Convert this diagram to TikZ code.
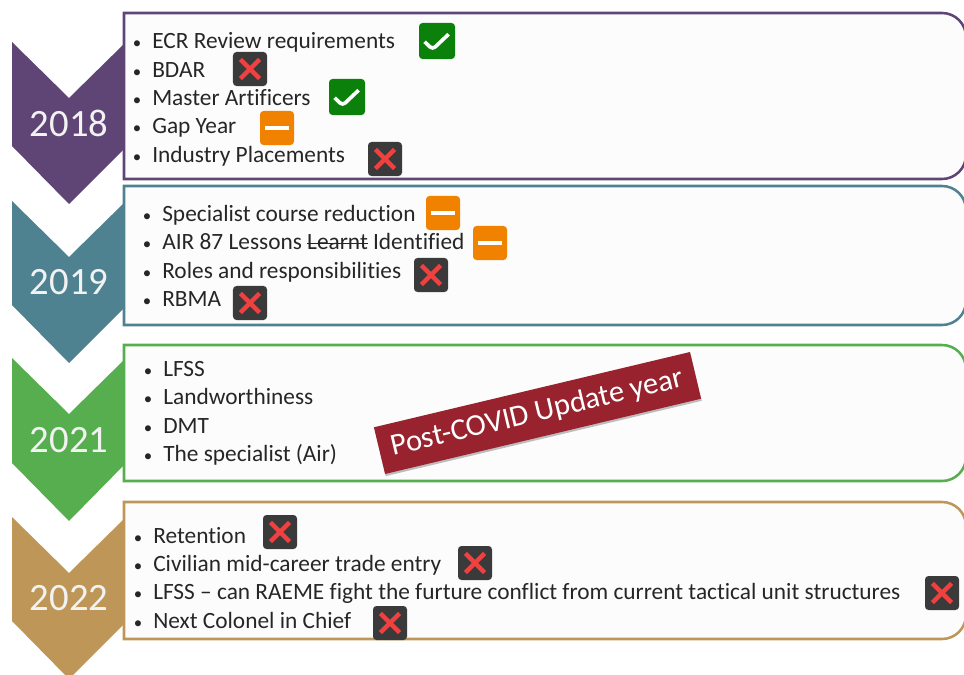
\documentclass[tikz,border=0pt]{standalone}
\usepackage{fontspec}
\setmainfont{Carlito}[Ligatures=NoCommon]
\usetikzlibrary{shadows}
\definecolor{purpleyear}{HTML}{5F4476}
\definecolor{tealyear}{HTML}{4F8291}
\definecolor{greenyear}{HTML}{57AE4F}
\definecolor{tanyear}{HTML}{BE9758}
\definecolor{bannerred}{HTML}{98232F}
\definecolor{icondark}{HTML}{3A3A3A}
\definecolor{icongreen}{HTML}{0B800B}
\definecolor{iconorange}{HTML}{F08200}
\definecolor{iconred}{HTML}{F04040}
\tikzset{
	item/.style     = {anchor=base west, inner sep=0pt, text=black!85, font=\fontsize{16.6pt}{18pt}\selectfont},
	year/.style     = {text=white!95!black, font=\fontsize{27.5pt}{30pt}\selectfont},
	topic/.style    = {line width=1.8pt, fill=white!99!black},
	icon/.style     = {rounded corners=2.5pt, minimum width=0.85cm, minimum height=0.85cm, inner sep=0pt},
	tickbox/.style  = {icon, fill=icongreen, minimum width=0.9cm, minimum height=0.9cm, path picture={
		\draw[white, line width=2.6pt] ([shift={(-0.31cm,-0.02cm)}]path picture bounding box.center)
			--++(0.2cm,-0.19cm)--++(0.4cm,0.38cm);}},
	crossbox/.style = {icon, fill=icondark, path picture={
		\draw[iconred, line width=3.2pt] ([shift={(-0.24cm,-0.24cm)}]path picture bounding box.center)
			--++(0.48cm,0.48cm) ++(-0.48cm,0)--++(0.48cm,-0.48cm);}},
	minusbox/.style = {icon, fill=iconorange, path picture={
		\draw[white, line width=3.2pt] ([shift={(-0.3cm,0cm)}]path picture bounding box.center)--++(0.6cm,0);}},
	banner/.style   = {fill=bannerred, text=white, rotate=13.4, minimum width=8.12cm, minimum height=1.2cm,
		inner sep=0pt, font=\fontsize{21.7pt}{24pt}\selectfont, drop shadow={shadow xshift=0.5pt, shadow yshift=-1.5pt, opacity=0.5}}
}
\newlength{\tikzpx}
\setlength{\tikzpx}{0.025cm}
\newcommand{\bul}{\makebox[16\tikzpx][l]{\hspace*{-3.5\tikzpx}\fontsize{12pt}{12pt}\selectfont\textbullet}}
\newcommand{\struck}[1]{\setbox0\hbox{#1}\rlap{\rule[0.22em]{\wd0}{0.6pt}}\box0\relax}

\begin{document}
\begin{tikzpicture}[x=0.025cm, y=-0.025cm]
\useasboundingbox (0,0) rectangle (964,675);
\clip (0,0) rectangle (964,675);

% chevrons
\fill[purpleyear] (12,42)--(69,98)--(126,42)--(126,147)--(69,204)--(12,146)--cycle;
\fill[tealyear] (12,201)--(69,257)--(126,201)--(126,306)--(69,363)--(12,305)--cycle;
\fill[greenyear] (12,358)--(69,414)--(126,358)--(126,463)--(69,521)--(12,463)--cycle;
\fill[tanyear] (12,517)--(69,573)--(126,517)--(126,622)--(69,679)--(12,621)--cycle;

% boxes
\draw[topic, draw=purpleyear] (124,13)--(124,179)[rounded corners=0.6cm]--(966,179)--(966,13)[sharp corners]--cycle;
\draw[topic, draw=tealyear] (124,186)--(124,325)[rounded corners=0.6cm]--(966,325)--(966,186)[sharp corners]--cycle;
\draw[topic, draw=greenyear] (124,345)--(124,481)[rounded corners=0.6cm]--(966,481)--(966,345)[sharp corners]--cycle;
\draw[topic, draw=tanyear] (124,502)--(124,639)[rounded corners=0.6cm]--(966,639)--(966,502)[sharp corners]--cycle;

\draw
node at (69,123) [year] (y18){2018}
node at (69,282) [year] (y19){2019}
node at (69,440) [year] (y21){2021}
node at (69,598) [year] (y22){2022};

% 2018
\draw
node at (136,49) [item] (a1){\bul ECR Review requirements}
node at (136,78) [item] (a2){\bul BDAR}
node at (136,106) [item] (a3){\bul Master Artificers}
node at (136,134) [item] (a4){\bul Gap Year}
node at (136,163) [item] (a5){\bul Industry Placements}
node at (437,41) [tickbox] (ia1){}
node at (250,69) [crossbox] (ia2){}
node at (347,97) [tickbox] (ia3){}
node at (277,128) [minusbox] (ia4){}
node at (385,159) [crossbox] (ia5){};

% 2019
\draw
node at (146,221) [item] (b1){\bul Specialist course reduction}
node at (146,249) [item] (b2){\bul AIR 87 Lessons \struck{Learnt} Identified}
node at (146,278) [item] (b3){\bul Roles and responsibilities}
node at (146,306) [item] (b4){\bul RBMA}
node at (443,213) [minusbox] (ib1){}
node at (490,243) [minusbox] (ib2){}
node at (431,275) [crossbox] (ib3){}
node at (250,303) [crossbox] (ib4){};

% 2021
\draw
node at (147,376) [item] (c1){\bul LFSS}
node at (147,404) [item] (c2){\bul Landworthiness}
node at (147,433) [item] (c3){\bul DMT}
node at (147,461) [item] (c4){\bul The specialist (Air)}
node at (537.5,413) [banner] (covid){Post-COVID Update year};

% 2022
\draw
node at (137,543) [item] (d1){\bul Retention}
node at (137,571) [item] (d2){\bul Civilian mid-career trade entry}
node at (137,599) [item] (d3){\bul LFSS -- can RAEME fight the furture conflict from current tactical unit structures}
node at (137,628) [item] (d4){\bul Next Colonel in Chief}
node at (280,532) [crossbox] (id1){}
node at (475,563) [crossbox] (id2){}
node at (942,593) [crossbox] (id3){}
node at (390,623) [crossbox] (id4){};
\end{tikzpicture}
\end{document}
